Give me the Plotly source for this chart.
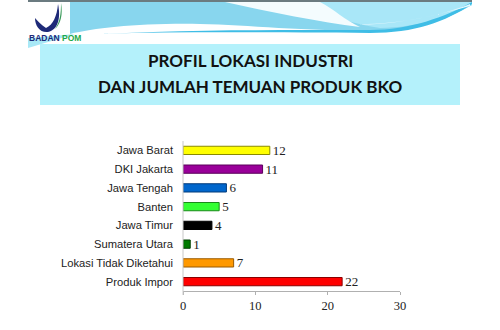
import plotly.graph_objects as go

categories = ["Jawa Barat", "DKI Jakarta", "Jawa Tengah", "Banten", "Jawa Timur",
              "Sumatera Utara", "Lokasi Tidak Diketahui", "Produk Impor"]
values = [12, 11, 6, 5, 4, 1, 7, 22]
bar_colors = ["#ffff00", "#990099", "#0066cc", "#33ff33", "#000000", "#007a00", "#ff9900", "#ff0000"]
line_colors = ["#8a8a00", "#5a005a", "#003a7a", "#1a8a1a", "#000000", "#004000", "#9a5a00", "#8a0000"]
x_ticks = [0, 10, 20, 30]
title_lines = ["PROFIL LOKASI INDUSTRI", "DAN JUMLAH TEMUAN PRODUK BKO"]

W, H = 500, 330
L, R, T, B = 183, 400, 141, 291


def px(x, y):
    return (x - L) / (R - L), (B - y) / (B - T)


def path(points, close=True):
    s = ""
    for i, (x, y) in enumerate(points):
        a, b = px(x, y)
        s += ("M" if i == 0 else "L") + f"{a:.4f},{b:.4f} "
    return s + ("Z" if close else "")


def cpath(start, segs):
    a = px(*start)
    s = f"M{a[0]:.4f},{a[1]:.4f} "
    for seg in segs:
        if len(seg) == 3:
            pts = [px(*p) for p in seg]
            s += "C" + " ".join(f"{p[0]:.4f},{p[1]:.4f}" for p in pts) + " "
        else:
            p = px(*seg[0])
            s += f"L{p[0]:.4f},{p[1]:.4f} "
    return s + "Z"


def shp(pth, color, layer="below"):
    return dict(type="path", xref="paper", yref="paper", layer=layer, path=pth,
                fillcolor=color, line=dict(width=0))


fig = go.Figure()
fig.add_trace(go.Bar(
    y=categories, x=values, orientation="h",
    marker=dict(color=bar_colors, line=dict(color=line_colors, width=1)),
    text=[str(v) for v in values], textposition="outside", constraintext="none",
    textfont=dict(family="Liberation Serif, serif", size=13, color="#222222"),
    cliponaxis=False, width=0.44,
))

shapes = []
# top grey line
shapes.append(shp(path([(28, 0), (472, 0), (472, 2), (28, 2)]), "#6b7b80"))
# base cyan wave
shapes.append(shp(cpath((70, 2), [[(472, 2)], [(472, 5)], ((445, 20), (420, 30), (380, 31)),
                                  ((300, 31), (250, 25), (200, 24)), ((140, 23), (95, 28), (70, 34))]),
                  "#88d6ee"))
# lighter right area
shapes.append(shp(cpath((300, 2), [[(472, 2)], [(472, 5)], ((445, 18), (420, 27), (380, 28)),
                                   ((340, 22), (320, 10), (300, 2))]), "#a9e7f8"))
# white wedge
shapes.append(shp(cpath((225, 2), [[(320, 2)], ((335, 10), (345, 20), (360, 27)),
                                   ((320, 22), (270, 12), (225, 2))]), "#f4fcfe"))
# blue stripe
shapes.append(shp(cpath((472, 4), [((445, 22), (415, 33), (370, 33)), ((300, 33), (200, 31), (100, 34)),
                                   ((200, 29), (300, 30), (370, 30)), ((410, 30), (445, 17), (472, 2))]),
                  "#3fbde6"))
# thin white stripe inside wave
shapes.append(shp(cpath((470, 4), [((440, 16), (400, 24), (360, 24)), ((363, 25), (400, 26), (470, 6))]),
                  "#e8f8fd"))
# bottom-left triangle
shapes.append(shp(path([(28, 38), (75, 34), (28, 48)]), "#a8e8f6"))
# white backing behind logo
shapes.append(shp(path([(28, 2), (70, 2), (70, 34), (28, 38)]), "#ffffff"))
# logo swoosh
shapes.append(shp(cpath((58, 4), [((57, 16), (53, 25), (46, 28)), ((41, 25), (38, 21), (35, 18)),
                                  ((35, 26), (40, 33), (48, 32)), ((58, 30), (61, 18), (58, 4))]),
                  "#1e2a78"))
shapes.append(shp(cpath((61, 3), [((63, 14), (61, 24), (55, 29)), ((60, 22), (61, 14), (61, 3))]),
                  "#3a9a5a"))
# title box
shapes.append(shp(path([(40, 44), (460, 44), (460, 105), (40, 105)]), "#b4f1fb"))
# y axis line
shapes.append(dict(type="path", xref="paper", yref="paper", layer="above",
                   path=path([(183, 141), (183, 295)], close=False),
                   line=dict(color="#c8c8c8", width=1)))

annotations = []
for text, y in zip(title_lines, [61, 86]):
    annotations.append(dict(x=px(250, 0)[0], y=px(0, y)[1], xref="paper", yref="paper",
                            text=f"<b>{text}</b>", showarrow=False, xanchor="center", yanchor="middle",
                            font=dict(family="Lato, sans-serif", size=17, color="#111111")))
annotations.append(dict(x=px(27, 0)[0], y=px(0, 38)[1], xref="paper", yref="paper",
                        text="<b><span style='color:#1e2a78'>BADAN</span> <span style='color:#1fa84a'>POM</span></b>",
                        showarrow=False, xanchor="left", yanchor="middle",
                        font=dict(family="Liberation Sans, Arial, sans-serif", size=8.5, color="#1e2a78")))

fig.update_layout(
    width=W, height=H,
    margin=dict(l=L, r=W - R, t=T, b=H - B, pad=0),
    paper_bgcolor="#ffffff", plot_bgcolor="#ffffff",
    showlegend=False,
    shapes=shapes, annotations=annotations,
    xaxis=dict(range=[0, 30], tickvals=x_ticks, ticktext=[str(v) for v in x_ticks],
               showgrid=False, zeroline=False, showline=True, linecolor="#b0b0b0", linewidth=1,
               ticks="outside", ticklen=3, tickcolor="#b0b0b0",
               tickfont=dict(family="Liberation Serif, serif", size=12.5, color="#222222")),
    yaxis=dict(categoryorder="array", categoryarray=categories[::-1], autorange=True,
               showgrid=False, zeroline=False, showline=False, ticks="",
               ticklabelstandoff=9,
               tickfont=dict(family="Liberation Sans, Arial, sans-serif", size=11.2, color="#222222")),
)

fig.write_html("out.html")
